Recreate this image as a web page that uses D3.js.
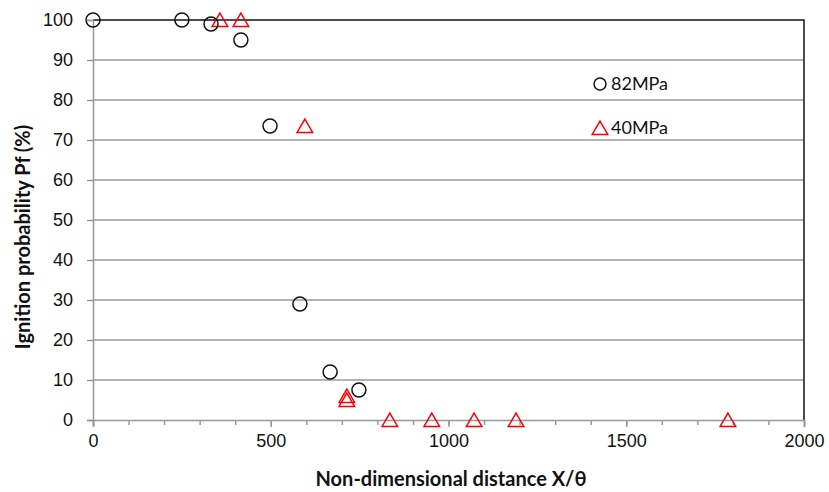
<!DOCTYPE html>
<html>
<head>
<meta charset="utf-8">
<script src="https://cdn.jsdelivr.net/npm/d3@7"></script>
<style>
  body { margin: 0; background: #fff; }
  svg { font-family: Lato, "Open Sans", sans-serif; }
</style>
</head>
<body>
<div id="chart"></div>
<script>
// 82MPa series (circles)
const x82 = [0, 250, 332, 416, 498, 582, 667, 748]
const y82 = [100, 100, 99, 95, 73.5, 29, 12, 7.5]
// 40MPa series (triangles)
const x40 = [357, 416, 596, 714, 714, 835, 953, 1072, 1190, 1786]
const y40 = [100, 100, 73.5, 6, 5, 0, 0, 0, 0, 0]
const xTicks = [0, 500, 1000, 1500, 2000]
const yTicks = [0, 10, 20, 30, 40, 50, 60, 70, 80, 90, 100]
const seriesNames = ['82MPa', '40MPa']

const width = 829
const height = 492
const margin = { top: 20, right: 25, bottom: 72, left: 93 }

const svg = d3.select('#chart').append('svg')
  .attr('width', width)
  .attr('height', height)

const x = d3.scaleLinear().domain([0, 2000]).range([margin.left, width - margin.right])
const y = d3.scaleLinear().domain([0, 100]).range([height - margin.bottom, margin.top])

// gridlines
svg.append('g')
  .selectAll('line')
  .data(yTicks.filter(d => d > 0 && d < 100))
  .join('line')
  .attr('x1', x(0))
  .attr('x2', x(2000))
  .attr('y1', d => y(d))
  .attr('y2', d => y(d))
  .attr('stroke', '#999')
  .attr('stroke-width', 1.5)

// top and right border
svg.append('path')
  .attr('d', `M${x(0)},${y(100)}H${x(2000)}V${y(0)}`)
  .attr('fill', 'none')
  .attr('stroke', '#111')
  .attr('stroke-width', 1.5)

// y axis
const yAxis = svg.append('g')
  .attr('transform', `translate(${x(0)},0)`)
  .call(d3.axisLeft(y).tickValues(yTicks).tickSize(6).tickPadding(14))
yAxis.select('.domain').attr('stroke', '#999').attr('stroke-width', 1.5)
yAxis.selectAll('.tick line').attr('stroke', '#999').attr('stroke-width', 1.5)
yAxis.selectAll('text').attr('font-size', 18).attr('fill', '#111')

// x axis minor ticks
svg.append('g')
  .attr('transform', `translate(0,${y(0)})`)
  .call(d3.axisBottom(x).ticks(20).tickSize(5).tickFormat(''))
  .call(g => g.select('.domain').remove())
  .call(g => g.selectAll('.tick line').attr('stroke', '#999').attr('stroke-width', 1.5))

// x axis
const xAxis = svg.append('g')
  .attr('transform', `translate(0,${y(0)})`)
  .call(d3.axisBottom(x).tickValues(xTicks).tickFormat(d3.format('d')).tickSize(7).tickPadding(7))
xAxis.select('.domain').attr('stroke', '#999').attr('stroke-width', 1.5)
xAxis.selectAll('.tick line').attr('stroke', '#999').attr('stroke-width', 1.5)
xAxis.selectAll('text').attr('font-size', 18).attr('fill', '#111')

// axis titles
svg.append('text')
  .attr('x', 451)
  .attr('y', 486)
  .attr('text-anchor', 'middle')
  .attr('font-weight', 'bold')
  .attr('font-size', 20)
  .attr('fill', '#111')
  .text('Non-dimensional distance X/θ')

const yTitle = svg.append('text')
  .attr('transform', `translate(30,237) rotate(-90)`)
  .attr('text-anchor', 'middle')
  .attr('font-weight', 'bold')
  .attr('font-size', 20)
  .attr('fill', '#111')
yTitle.append('tspan').text('Ignition probability Pf')
yTitle.append('tspan').attr('dx', 4).text('(%)')

const tri = d3.symbol().type(d3.symbolTriangle).size(105)

// triangles (shifted so the box, not the centroid, sits on the value)
svg.append('g')
  .selectAll('path')
  .data(x40.map((d, i) => [d, y40[i]]))
  .join('path')
  .attr('d', tri)
  .attr('transform', d => `translate(${x(d[0])},${y(d[1]) + 2})`)
  .attr('fill', 'none')
  .attr('stroke', '#f00')
  .attr('stroke-width', 1.5)

// circles
svg.append('g')
  .selectAll('circle')
  .data(x82.map((d, i) => [d, y82[i]]))
  .join('circle')
  .attr('cx', d => x(d[0]))
  .attr('cy', d => y(d[1]))
  .attr('r', 7)
  .attr('fill', 'none')
  .attr('stroke', '#111')
  .attr('stroke-width', 1.5)

// legend
const legend = svg.append('g').attr('transform', 'translate(600,84)')
legend.append('circle').attr('r', 6).attr('fill', 'none').attr('stroke', '#111').attr('stroke-width', 1.5)
legend.append('text').attr('x', 11).attr('y', 6).attr('font-size', 18).attr('fill', '#111').text(seriesNames[0])
legend.append('path').attr('d', tri).attr('transform', 'translate(0,46)')
  .attr('fill', 'none').attr('stroke', '#f00').attr('stroke-width', 1.5)
legend.append('text').attr('x', 11).attr('y', 50).attr('font-size', 18).attr('fill', '#111').text(seriesNames[1])
</script>
</body>
</html>
